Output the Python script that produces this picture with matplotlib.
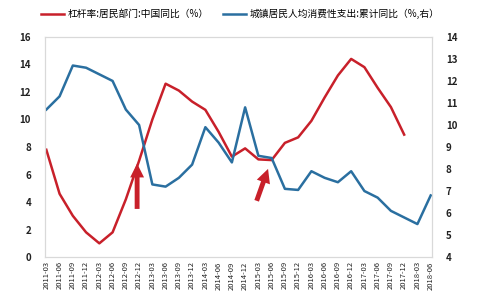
import numpy as np
import matplotlib.pyplot as plt

plt.rcParams['font.family'] = ['Noto Sans CJK SC', 'DejaVu Sans']

quarters = ['2011-03', '2011-06', '2011-09', '2011-12',
            '2012-03', '2012-06', '2012-09', '2012-12',
            '2013-03', '2013-06', '2013-09', '2013-12',
            '2014-03', '2014-06', '2014-09', '2014-12',
            '2015-03', '2015-06', '2015-09', '2015-12',
            '2016-03', '2016-06', '2016-09', '2016-12',
            '2017-03', '2017-06', '2017-09', '2017-12',
            '2018-03', '2018-06']

# 杠杆率:居民部门 同比 (left axis)
leverage = [7.8, 4.6, 3.0, 1.8, 1.0, 1.8, 4.2, 7.0, 10.0, 12.6,
            12.1, 11.3, 10.7, 9.1, 7.3, 7.9, 7.1, 7.05, 8.3, 8.7,
            9.9, 11.6, 13.2, 14.4, 13.8, 12.3, 10.9, 8.9]

# 城镇居民人均消费性支出 累计同比 (right axis)
consumption = [10.7, 11.3, 12.7, 12.6, 12.3, 12.0, 10.7, 10.0, 7.3, 7.2,
               7.6, 8.2, 9.9, 9.2, 8.3, 10.8, 8.6, 8.5, 7.1, 7.05,
               7.9, 7.6, 7.4, 7.9, 7.0, 6.7, 6.1, 5.8, 5.5, 6.8]

red = '#c8202a'
blue = '#2a6fa0'
frame = '#d9d9d9'

fig = plt.figure(figsize=(5, 3), dpi=100)
ax = fig.add_axes([0.09, 0.143, 0.774, 0.734])
ax2 = ax.twinx()

x = np.arange(len(quarters))
l1, = ax.plot(x[:len(leverage)], leverage, color=red, lw=1.8)
l2, = ax2.plot(x, consumption, color=blue, lw=1.8)

ax.set_xlim(-0.1, len(quarters) - 0.9)
ax.set_ylim(0, 16)
ax.set_yticks(range(0, 17, 2))
ax2.set_ylim(4, 14)
ax2.set_yticks(range(4, 15))

ax.set_xticks(x)
ax.set_xticklabels(quarters, rotation=90, fontsize=5.5, color='#333333')

for a in (ax, ax2):
    for s in a.spines.values():
        s.set_color(frame)
    a.tick_params(length=0, labelsize=7, colors='#222222', pad=10)
for lab in ax.get_yticklabels() + ax2.get_yticklabels():
    lab.set_fontweight('bold')
ax.tick_params(axis='x', pad=3, labelsize=5.5)

# arrows
arrow_kw = dict(arrowstyle='simple,head_width=1.0,head_length=1.0,tail_width=0.35',
                color=red, lw=0)
ax.annotate('', xy=(6.85, 7.0), xytext=(6.85, 3.3), arrowprops=arrow_kw)
ax.annotate('', xy=(16.8, 6.6), xytext=(15.8, 3.9), arrowprops=arrow_kw)

fig.legend([l1, l2], ['杠杆率:居民部门:中国同比（%）', '城镇居民人均消费性支出:累计同比（%,右）'],
           loc='upper center', bbox_to_anchor=(0.48, 1.0), ncol=2, frameon=False,
           fontsize=7, handlelength=2.4, columnspacing=1.5, handletextpad=0.3)

fig.savefig('out.png', dpi=100)
